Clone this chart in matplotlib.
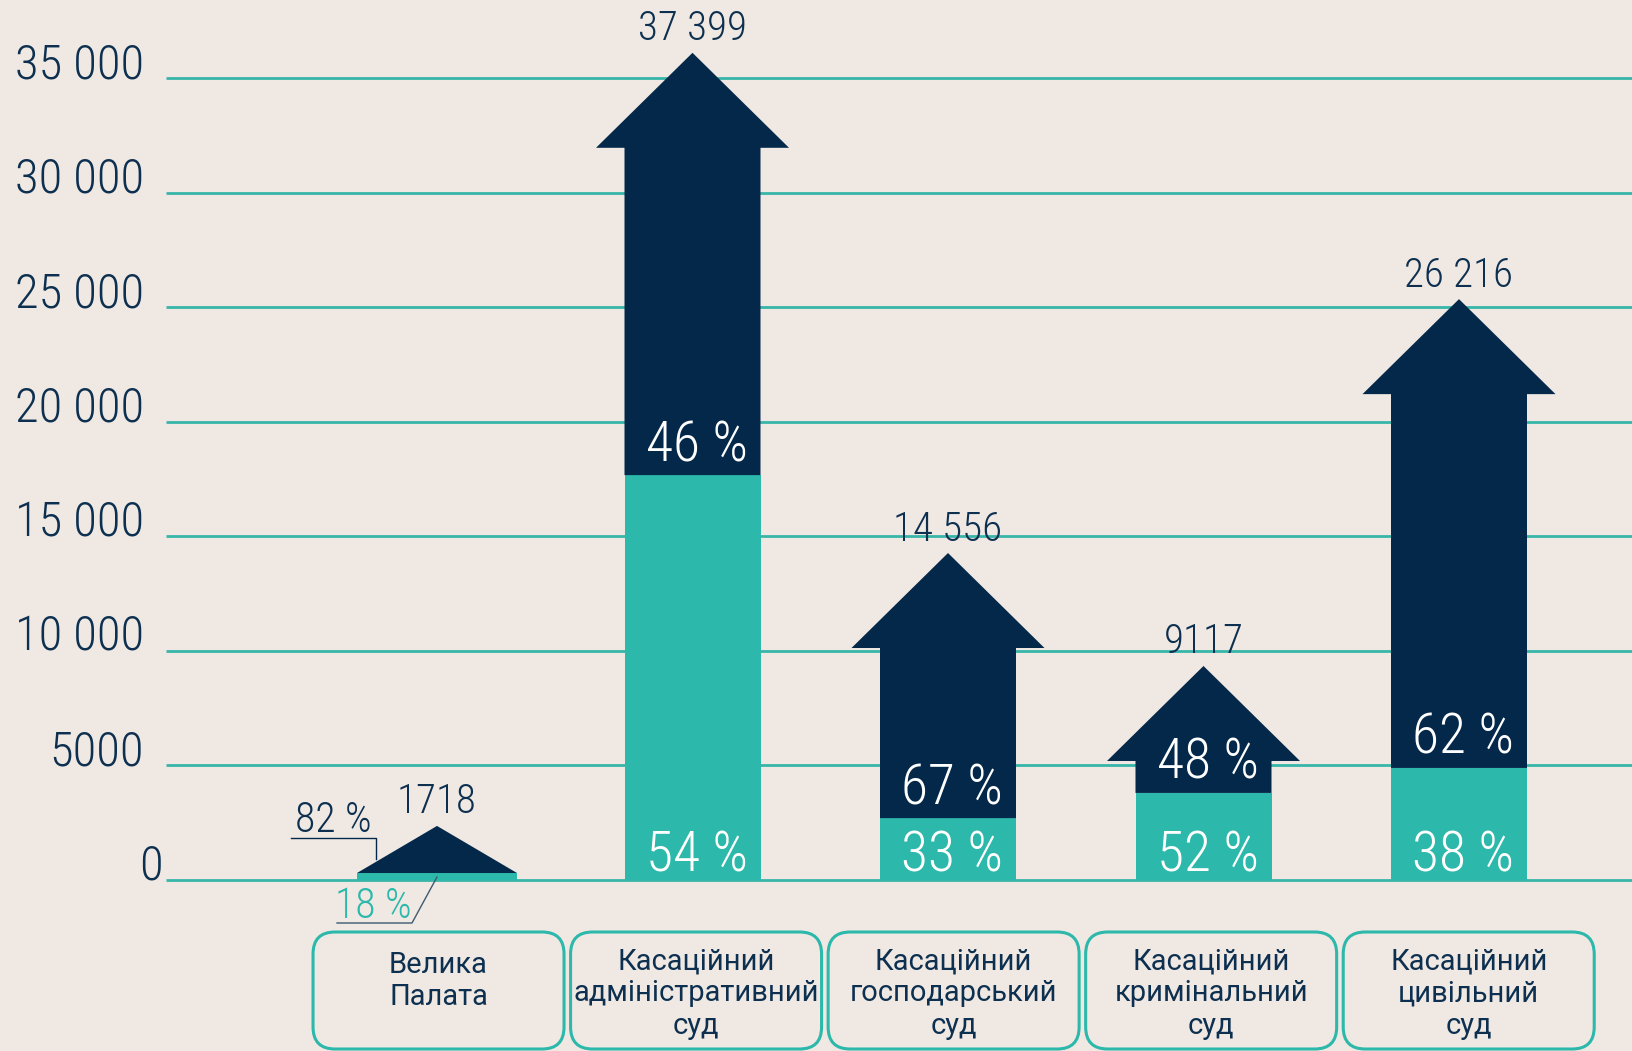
import matplotlib
matplotlib.use('Agg')
import matplotlib.pyplot as plt
from matplotlib import font_manager
from matplotlib.patches import Polygon, Rectangle, FancyBboxPatch

# data read from the infographic
courts = ['Велика\nПалата',
          'Касаційний\nадміністративний\nсуд',
          'Касаційний\nгосподарський\nсуд',
          'Касаційний\nкримінальний\nсуд',
          'Касаційний\nцивільний\nсуд']
totals = [1718, 37399, 14556, 9117, 26216]
share_teal = [18, 54, 33, 52, 38]
share_navy = [82, 46, 67, 48, 62]
# heights as drawn in the picture (the original is not to scale)
arrow_top = [2360, 36100, 14270, 9340, 25350]
teal_top = [305, 17670, 2700, 3800, 4890]
yticks = [0, 5000, 10000, 15000, 20000, 25000, 30000, 35000]

BG = '#f0e9e3'
NAVY = '#03284a'
TEAL = '#2cb8aa'
GRID = '#36b6a8'
TXT = '#0d3050'

names = {f.name for f in font_manager.fontManager.ttflist}
NUM_FONT = 'Roboto Condensed' if 'Roboto Condensed' in names else 'Roboto'
plt.rcParams['font.family'] = [NUM_FONT, 'DejaVu Sans']

# pixel layout of the original
W, H = 1632, 1051
X0, Y0 = 437, 880          # px of first category centre / of zero line
PX_X, PX_Y = 255.5, 0.022914


def px(d):
    return d / PX_X


def py(d):
    return d / PX_Y


def ypix(p):
    return (Y0 - p) / PX_Y


def fmt(v):
    if v >= 10000:
        return '{:,}'.format(v).replace(',', ' ')
    return str(v)


fig = plt.figure(figsize=(W / 100, H / 100), dpi=100)
fig.patch.set_facecolor(BG)
ax = fig.add_axes([0, 0, 1, 1])
ax.set_facecolor(BG)
ax.set_xlim(-X0 / PX_X, (W - X0) / PX_X)
ax.set_ylim(-(H - Y0) / PX_Y, Y0 / PX_Y)
ax.axis('off')

# grid + y labels
x_grid = px(166 - X0)
ax.hlines(yticks, x_grid, ax.get_xlim()[1], color=GRID, lw=2.0, zorder=1)
for v in yticks:
    xr = 163 if v == 0 else 144
    ax.text(px(xr - X0), v, fmt(v), ha='right', va='baseline',
            fontsize=35, color=TXT, fontweight='light')

HEAD_H = py(95)
SHAFT = px(68)
HEAD = px(96.5)
SMALL = px(80)

for i, name in enumerate(courts):
    c = i
    base = teal_top[i]
    tip = arrow_top[i]
    if tip - base > HEAD_H:
        ax.add_patch(Rectangle((c - SHAFT, 0), 2 * SHAFT, base, fc=TEAL, ec='none', zorder=3))
        sh = tip - HEAD_H
        pts = [(c - SHAFT, base), (c - SHAFT, sh), (c - HEAD, sh), (c, tip),
               (c + HEAD, sh), (c + SHAFT, sh), (c + SHAFT, base)]
        ax.add_patch(Polygon(pts, closed=True, fc=NAVY, ec='none', zorder=3))
        # percentages inside
        ax.text(c + px(4), py(8), '%d %%' % share_teal[i], ha='center', va='baseline',
                fontsize=40, color='white', fontweight='light', zorder=4)
        ax.text(c + px(4), base + py(14), '%d %%' % share_navy[i], ha='center', va='baseline',
                fontsize=40, color='white', fontweight='light', zorder=4)
    else:
        ax.add_patch(Rectangle((c - SMALL, 0), 2 * SMALL, base, fc=TEAL, ec='none', zorder=3))
        ax.add_patch(Polygon([(c - SMALL, base), (c, tip), (c + SMALL, base)],
                             closed=True, fc=NAVY, ec='none', zorder=3))
        # percentages outside with leader lines
        ax.text(c - px(65), ypix(832), '%d %%' % share_navy[i], ha='right', va='baseline',
                fontsize=30, color=TXT, fontweight='light')
        ax.plot([c - px(146), c - px(61), c - px(61)], [ypix(838), ypix(838), ypix(859)],
                color=NAVY, lw=1.0, zorder=2)
        ax.text(c - px(25), ypix(918), '%d %%' % share_teal[i], ha='right', va='baseline',
                fontsize=30, color=TEAL, fontweight='light')
        ax.plot([c, c - px(25), c - px(100)], [ypix(877), ypix(923), ypix(923)],
                color='#3d5a70', lw=1.0, zorder=4)

    ax.annotate(fmt(totals[i]), (c, tip), xytext=(0, 9), textcoords='offset points',
                ha='center', va='baseline', fontsize=29.5, color=TXT, fontweight='light')

    # category box
    bc = i * 1.008 + 0.006
    bw = px(125.5)
    ytop, ybot = ypix(932), ypix(1049)
    ax.add_patch(FancyBboxPatch((bc - bw, ybot), 2 * bw, ytop - ybot,
                                boxstyle='round,pad=0,rounding_size=%f' % px(22),
                                mutation_aspect=PX_X / PX_Y,
                                fc='none', ec=TEAL, lw=2.2, zorder=2))
    ty = 951 if name.count('\n') == 1 else 947
    ax.text(bc, ypix(ty), name, ha='center', va='top', fontsize=21, color=TXT,
            family=['Roboto', 'DejaVu Sans'], fontweight='normal',
            linespacing=1.2, multialignment='center')

fig.savefig('out.png', dpi=100, facecolor=BG)
